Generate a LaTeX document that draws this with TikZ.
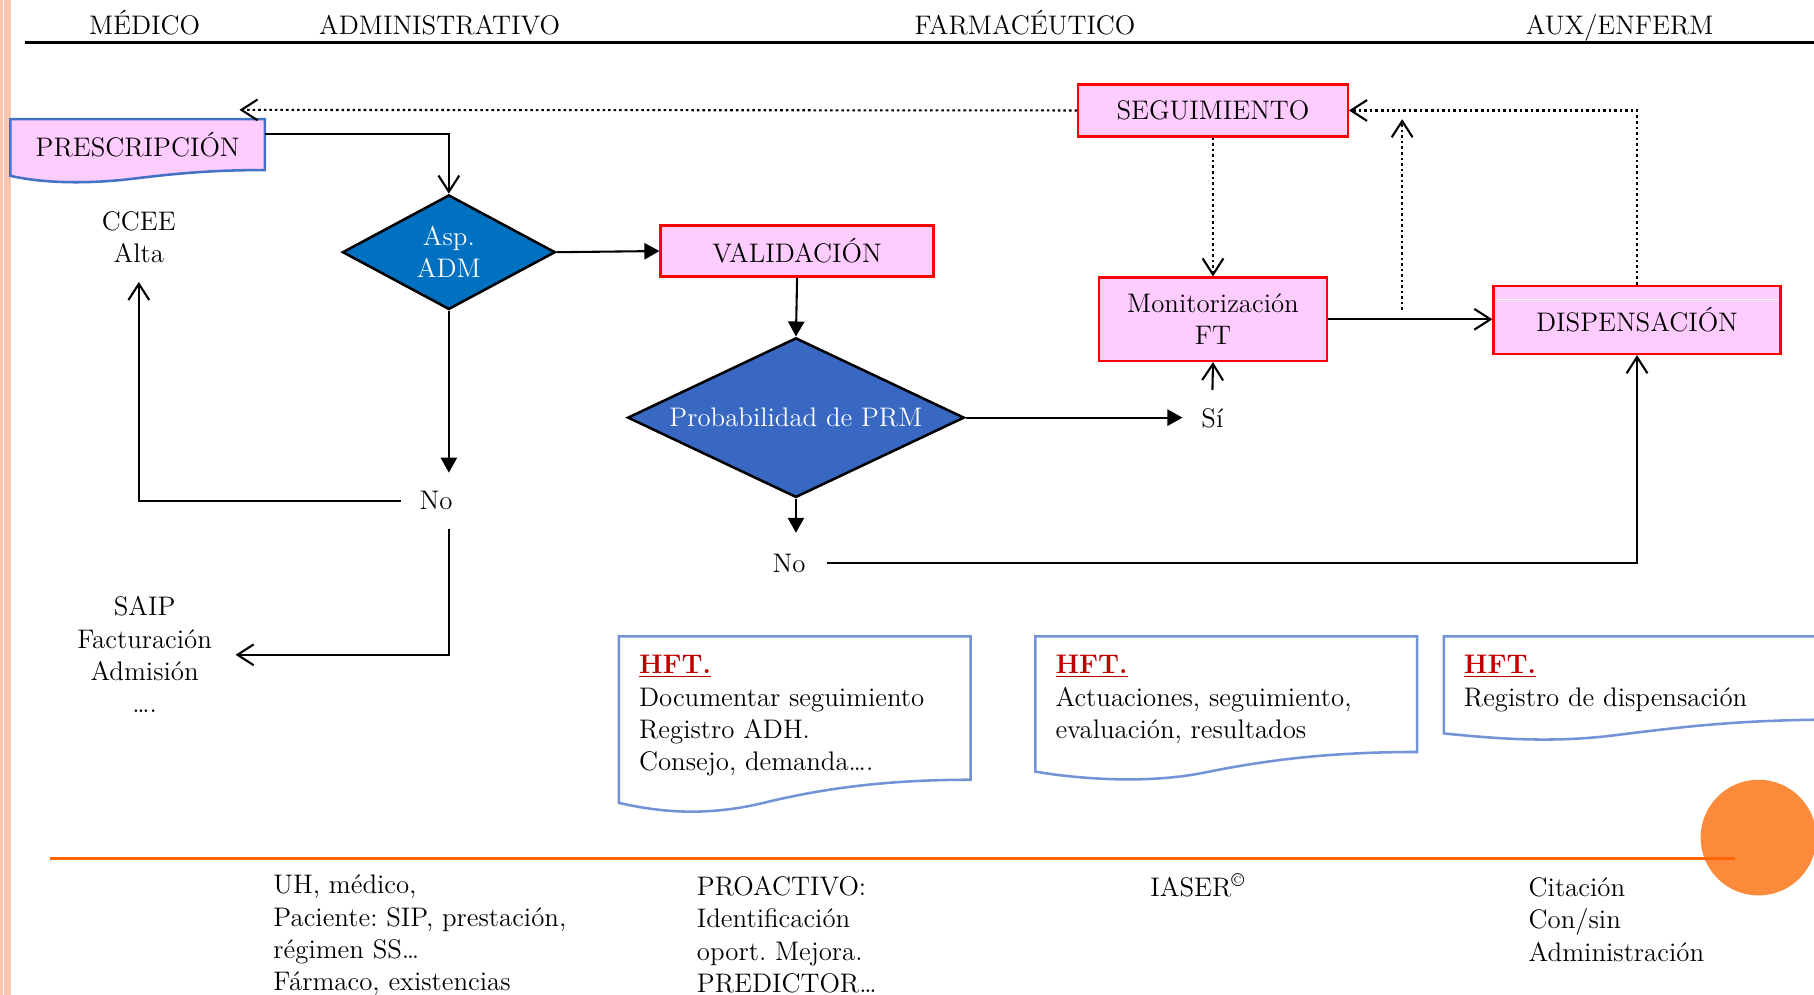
\documentclass[tikz,border=0pt]{standalone}
\usepackage{fontspec}
\usetikzlibrary{arrows.meta,shapes.geometric,calc}
\frenchspacing

\definecolor{pinkfill}{HTML}{FFCCFF}
\definecolor{boxred}{HTML}{FF0000}
\definecolor{docblue}{HTML}{4472C4}
\definecolor{hftblue}{HTML}{7393D8}
\definecolor{aspblue}{HTML}{0070C0}
\definecolor{prmblue}{HTML}{3868C2}
\definecolor{hftred}{HTML}{C00000}
\definecolor{ruleorange}{HTML}{FF6600}
\definecolor{dotorange}{HTML}{FB8A3B}
\definecolor{stripe}{HTML}{FCC5B0}

\newcommand{\hftlabel}{\textcolor{hftred}{\underline{\textbf{HFT.}}}}

\tikzset{
  lbl/.style={inner sep=0pt, align=center},
  heading/.style={anchor=base, inner sep=0pt},
  procbox/.style={draw=boxred, line width=1pt, fill=pinkfill, align=center, inner sep=0pt},
  decision/.style={diamond, draw=black, line width=1.1pt, text=white, align=center, inner sep=0pt},
  flow/.style={line width=0.9pt, -{Triangle[length=6.5pt,width=7pt]}},
  barb/.style={line width=0.9pt, -{Straight Barb[length=7pt,width=9pt]}},
  dotline/.style={line width=1pt, dash pattern=on 1.1pt off 1.3pt},
  docline/.style={line width=1.1pt},
  notes/.style={anchor=north west, align=left, inner sep=0pt}
}

\begin{document}
\begin{tikzpicture}[x=0.5pt, y=-0.5pt, font=\fontsize{11.6}{14}\selectfont\frenchspacing]
\useasboundingbox (0,0) rectangle (1568,860);
\clip (0,0) rectangle (1568,860);

% left margin stripe
\fill[stripe] (0,0) rectangle (9.5,860);
\draw[white, line width=0.5pt] (3,0) -- (3,860);

% lane headings
\node[heading] (hmed) at (125,30) {MÉDICO};
\node[heading] (hadm) at (380,30) {ADMINISTRATIVO};
\node[heading] (hfar) at (886,30) {FARMACÉUTICO};
\node[heading] (haux) at (1400,30) {AUX/ENFERM};
\draw[line width=1.3pt] (22,37) -- (1568,37);

% prescription document shape
\filldraw[docline, draw=docblue, fill=pinkfill]
  (9,103) -- (229,103) -- (229,147)
  .. controls (190,147) and (160,149) .. (119,154)
  .. controls (80,159) and (40,159) .. (9,152) -- cycle;
\node[lbl, minimum width=110pt, minimum height=22pt] (presc) at (119,125) {PRESCRIPCIÓN};

% process boxes and decisions
\node[decision, fill=aspblue, aspect=1.86, minimum width=92pt, minimum height=49.5pt] (asp) at (388,218) {Asp.\\ADM};
\node[procbox, minimum width=118pt, minimum height=22pt] (val) at (689,217) {VALIDACIÓN};
\node[decision, fill=prmblue, aspect=2.1, minimum width=145.5pt, minimum height=69pt] (prm) at (688,361) {Probabilidad de PRM};
\node[procbox, minimum width=116.5pt, minimum height=22.5pt] (seg) at (1048.5,95.5) {SEGUIMIENTO};
\node[procbox, minimum width=98.5pt, minimum height=36pt] (mon) at (1048.5,276) {Monitorización\\FT};
\node[procbox, minimum width=124pt, minimum height=29.5pt] (disp) at (1415,276.5) {DISPENSACIÓN};
\draw[white, line width=0.4pt] (1293,259) -- (1537,259);

% branch labels and destinations
\node[lbl, inner sep=8pt] (ccee) at (120,205) {CCEE\\Alta};
\node[lbl, inner sep=8pt] (no1) at (377,433) {No};
\node[lbl, inner sep=10pt] (saip) at (125,566) {SAIP\\Facturación\\Admisión\\….};
\node[lbl, inner sep=8pt] (si) at (1048,362) {Sí};
\node[lbl, inner sep=9pt] (no2) at (682,487) {No};

\coordinate (prescin) at (207,95);
\coordinate (fbstart) at (1212,268);
\coordinate (fbend) at (1212,103);

% solid connectors
\draw[barb] ($(presc.east)+(0,-9)$) -| (asp.north);
\draw[flow] (asp.east) -- (val.west);
\draw[flow] (val.south) -- (prm.north);
\draw[flow] (asp.south) -- (asp.south |- no1.north);
\draw[barb] (no1.west) -| (ccee.south);
\draw[barb] (asp.south |- no1.south) |- (saip.east);
\draw[flow] (prm.east) -- (prm.east -| si.west);
\draw[barb] (si.north) -- (mon.south);
\draw[flow] (prm.south) -- (prm.south |- no2.north);
\draw[barb] (no2.east) -| (disp.south);
\draw[barb] (mon.east) -- (mon.east -| disp.west);

% dotted follow-up connectors
\draw[dotline, barb] (seg.west) -- (prescin);
\draw[dotline, barb] (seg.south) -- (mon.north);
\draw[dotline, barb] (fbstart) -- (fbend);
\draw[dotline, barb] (disp.north) |- (seg.east);

% record documents
\draw[docline, draw=hftblue]
  (535,550) -- (839,550) -- (839,674)
  .. controls (760,674) and (705,683) .. (660,694)
  .. controls (610,706) and (570,702) .. (535,694) -- cycle;
\node[notes] (hft1) at (552,566) {\hftlabel\\Documentar seguimiento\\Registro ADH.\\Consejo, demanda….};

\draw[docline, draw=hftblue]
  (895,550) -- (1225,550) -- (1225,650)
  .. controls (1140,650) and (1085,659) .. (1040,668)
  .. controls (990,678) and (930,673) .. (895,667) -- cycle;
\node[notes] (hft2) at (912,566) {\hftlabel\\Actuaciones, seguimiento,\\evaluación, resultados};

\draw[docline, draw=hftblue]
  (1248,550) -- (1590,550) -- (1590,622)
  .. controls (1500,622) and (1450,629) .. (1400,635)
  .. controls (1340,643) and (1290,638) .. (1248,634) -- cycle;
\node[notes] (hft3) at (1265,566) {\hftlabel\\Registro de dispensación};

% footer
\fill[dotorange] (1520,724) circle (50);
\draw[ruleorange, line width=1.3pt] (43,742) -- (1500,742);

\node[notes] (f1) at (236,756) {UH, médico,\\Paciente: SIP, prestación,\\régimen SS…\\Fármaco, existencias};
\node[notes] (f2) at (602,757) {PROACTIVO:\\Identificación\\oport. Mejora.\\PREDICTOR…};
\node[notes] (f3) at (994,755) {IASER\textsuperscript{©}};
\node[notes] (f4) at (1321,758) {Citación\\Con/sin\\Administración};
\end{tikzpicture}
\end{document}
